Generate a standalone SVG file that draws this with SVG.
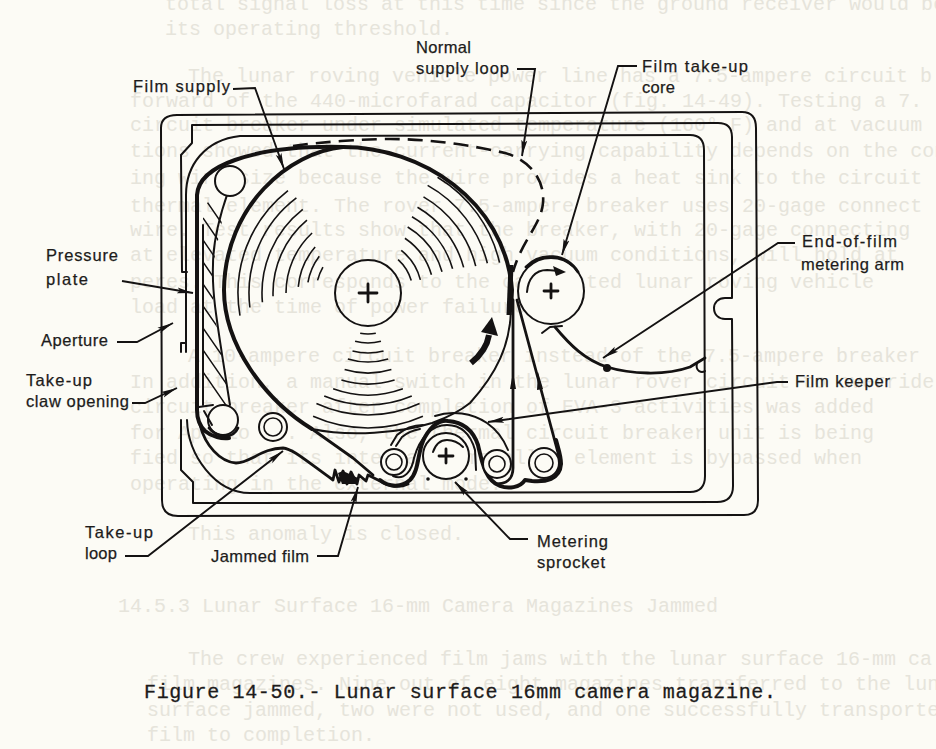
<svg xmlns="http://www.w3.org/2000/svg" width="936" height="749" viewBox="0 0 936 749">
<style>
.ghost{font-family:"Liberation Mono",monospace;font-size:20px;fill:#e6e4db}
.cap{font-family:"Liberation Mono",monospace;font-size:20px;fill:#1d1b1b;stroke:#1d1b1b;stroke-width:.3}
.lab{font-family:"Liberation Sans",Arial,sans-serif;font-size:16.5px;fill:#1d1b1b;stroke:#1d1b1b;stroke-width:.25}
.l{fill:none;stroke:#141212;stroke-width:2;stroke-linejoin:round;stroke-linecap:round}
.m{fill:none;stroke:#141212;stroke-width:2.8;stroke-linejoin:round;stroke-linecap:round}
.t{fill:none;stroke:#141212;stroke-width:4;stroke-linejoin:round;stroke-linecap:round}
.w{fill:#fcfbf5;stroke:#141212;stroke-width:2}
.a{fill:none;stroke:#141212;stroke-width:1.6}
.h{stroke:#141212;stroke-width:1.4}
.ld{fill:none;stroke:#141212;stroke-width:1.9;marker-end:url(#ah)}
</style>
<defs>
<marker id="ah" markerUnits="userSpaceOnUse" markerWidth="18" markerHeight="8" refX="16" refY="4" orient="auto"><path d="M0,1 L16,4 L0,7 L3,4 Z" fill="#141212"/></marker>
<clipPath id="plate"><path d="M203,205 L228,192 L213,265 L213,305 L230,405 L203,412 Z"/></clipPath>
</defs>
<rect width="936" height="749" fill="#fcfbf5"/>
<g id="show-through">
<text class="ghost" x="165" y="10">total signal loss at this time since the ground receiver would be o</text>
<text class="ghost" x="165" y="35">its operating threshold.</text>
<text class="ghost" x="188" y="82">The lunar roving vehicle power line has a 7.5-ampere circuit b</text>
<text class="ghost" x="130" y="107">forward of the 440-microfarad capacitor (fig. 14-49). Testing a 7.</text>
<text class="ghost" x="130" y="131">circuit breaker under simulated temperature (160° F) and at vacuum</text>
<text class="ghost" x="130" y="157">tions showed that the current-carrying capability depends on the con</text>
<text class="ghost" x="130" y="184">ing wire size because the wire provides a heat sink to the circuit</text>
<text class="ghost" x="130" y="212">thermal element. The rover 7.5-ampere breaker uses 20-gage connect</text>
<text class="ghost" x="130" y="236">wire. Test results show that the breaker, with 20-gage connecting</text>
<text class="ghost" x="130" y="261">at elevated temperature and high vacuum conditions, will hold at</text>
<text class="ghost" x="130" y="288">peres. This corresponds to the calculated lunar roving vehicle</text>
<text class="ghost" x="130" y="313">load at the time of power failure.</text>
<text class="ghost" x="188" y="362">A 10-ampere circuit breaker instead of the 7.5-ampere breaker</text>
<text class="ghost" x="130" y="388">In addition, a manual switch in the lunar rover circuit to override</text>
<text class="ghost" x="130" y="413">circuit breaker after completion of EVA-3 activities was added</text>
<text class="ghost" x="130" y="439">for Apollo 16. Also, the thermal circuit breaker unit is being</text>
<text class="ghost" x="130" y="464">fied so that its internal bimetallic element is bypassed when</text>
<text class="ghost" x="130" y="490">operating in the external mode.</text>
<text class="ghost" x="188" y="540">This anomaly is closed.</text>
<text class="ghost" x="118" y="612">14.5.3 Lunar Surface 16-mm Camera Magazines Jammed</text>
<text class="ghost" x="188" y="665">The crew experienced film jams with the lunar surface 16-mm ca</text>
<text class="ghost" x="147" y="690">film magazines. Nine out of eight magazines transferred to the lun</text>
<text class="ghost" x="147" y="716">surface jammed, two were not used, and one successfully transported</text>
<text class="ghost" x="147" y="741">film to completion.</text>
</g>
<g id="magazine-frame">
<path class="l" d="M177,115 L742,112 Q756,112 756,128 L758,500 Q758,515 744,515 L178,516 Q162,516 162,500 L161,128 Q161,115 177,115 Z"/>
<path class="l" d="M187,272 L182,272 L181,155 L192,143 L192,125 L718,123 Q732,123 732,137 L732,298 L725,298 C718,298 714,303 714,308 C714,315 719,319 725,319 L732,319 L733,486 Q733,502 717,502 L193,503 L193,482 L181,470 L181,420"/>
<path class="l" d="M187,420 C188,455 215,493 250,493 L690,492 Q705,492 705,476 L704,150 Q704,135 690,135 L240,136 C205,140 186,165 186,195 L186,343 L181,343 L181,352 M186,343 L186,352"/>
</g>
<g id="supply-channel">
<path class="t" d="M343,147 C300,146 263,150 235,160 C212,168 198,180 197,195 L197,410 C197,420 200,426 205,431 C212,437 222,439 229,438"/>
<path class="l" d="M203,225 L203,405"/>
<path class="l" d="M228,192 C220,215 213,240 213,265 C212,290 214,305 230,405"/>
<g clip-path="url(#plate)">
<path class="h" d="M203,196 L227,231 M203,218 L227,253 M203,240 L227,275 M203,262 L227,297 M203,284 L227,319 M203,306 L230,345 M203,328 L230,367 M203,350 L230,389 M203,372 L230,411"/>
</g>
<circle class="w" cx="230" cy="181" r="15"/>
<circle class="w" cx="223" cy="420" r="15"/>
<path class="l" d="M199,407 L213,405 M204,411 L212,425"/>
<path class="m" d="M209,428 C215,436 232,441 238,428"/>
</g>
<g id="film-supply-roll">
<path class="t" d="M343,147 C290,152 225,205 224,290 C224,345 265,400 312,429"/>
<path class="t" d="M343,147 C420,147 505,200 512,290 L511,310"/>
<path class="l" d="M511,310 C510,345 497,373 470,403 C455,415 440,420 432,423 C400,433 350,437 312,429"/>
<circle class="l" cx="368" cy="293" r="33"/>
<path class="m" d="M359,293 L377,293 M368,284 L368,302"/>
<g class="arcs">
<circle class="a" cx="368" cy="293" r="52" pathLength="360" stroke-dasharray="16 360" transform="rotate(194 368 293)"/>
<circle class="a" cx="368" cy="293" r="61" pathLength="360" stroke-dasharray="27 360" transform="rotate(190 368 293)"/>
<circle class="a" cx="368" cy="293" r="70" pathLength="360" stroke-dasharray="36 360" transform="rotate(185 368 293)"/>
<circle class="a" cx="368" cy="293" r="82" pathLength="360" stroke-dasharray="47 360" transform="rotate(180 368 293)"/>
<circle class="a" cx="368" cy="293" r="95" pathLength="360" stroke-dasharray="52 360" transform="rotate(178 368 293)"/>
<circle class="a" cx="368" cy="293" r="106" pathLength="360" stroke-dasharray="57 360" transform="rotate(175 368 293)"/>
<circle class="a" cx="368" cy="293" r="119" pathLength="360" stroke-dasharray="60 360" transform="rotate(173 368 293)"/>
<circle class="a" cx="368" cy="293" r="130" pathLength="360" stroke-dasharray="62 360" transform="rotate(170 368 293)"/>
<circle class="a" cx="368" cy="293" r="45" pathLength="360" stroke-dasharray="32 360" transform="rotate(312 368 293)"/>
<circle class="a" cx="368" cy="293" r="54" pathLength="360" stroke-dasharray="38 360" transform="rotate(308 368 293)"/>
<circle class="a" cx="368" cy="293" r="66" pathLength="360" stroke-dasharray="40 360" transform="rotate(304 368 293)"/>
<circle class="a" cx="368" cy="293" r="77" pathLength="360" stroke-dasharray="43 360" transform="rotate(301 368 293)"/>
<circle class="a" cx="368" cy="293" r="88" pathLength="360" stroke-dasharray="44 360" transform="rotate(300 368 293)"/>
<circle class="a" cx="368" cy="293" r="99" pathLength="360" stroke-dasharray="45 360" transform="rotate(300 368 293)"/>
<circle class="a" cx="368" cy="293" r="111" pathLength="360" stroke-dasharray="46 360" transform="rotate(300 368 293)"/>
<circle class="a" cx="368" cy="293" r="123" pathLength="360" stroke-dasharray="47 360" transform="rotate(299 368 293)"/>
<circle class="a" cx="368" cy="293" r="135" pathLength="360" stroke-dasharray="46 360" transform="rotate(301 368 293)"/>
<circle class="a" cx="368" cy="293" r="41" pathLength="360" stroke-dasharray="22 360" transform="rotate(79 368 293)"/>
<circle class="a" cx="368" cy="293" r="50" pathLength="360" stroke-dasharray="30 360" transform="rotate(75 368 293)"/>
<circle class="a" cx="368" cy="293" r="60" pathLength="360" stroke-dasharray="30 360" transform="rotate(75 368 293)"/>
<circle class="a" cx="368" cy="293" r="69" pathLength="360" stroke-dasharray="34 360" transform="rotate(73 368 293)"/>
<circle class="a" cx="368" cy="293" r="80" pathLength="360" stroke-dasharray="34 360" transform="rotate(73 368 293)"/>
<circle class="a" cx="368" cy="293" r="91" pathLength="360" stroke-dasharray="34 360" transform="rotate(73 368 293)"/>
<circle class="a" cx="368" cy="293" r="102" pathLength="360" stroke-dasharray="40 360" transform="rotate(70 368 293)"/>
<circle class="a" cx="368" cy="293" r="112" pathLength="360" stroke-dasharray="46 360" transform="rotate(67 368 293)"/>
<circle class="a" cx="368" cy="293" r="122" pathLength="360" stroke-dasharray="50 360" transform="rotate(65 368 293)"/>
<circle class="a" cx="368" cy="293" r="135" pathLength="360" stroke-dasharray="48 360" transform="rotate(66 368 293)"/>
</g>
</g>
<g id="normal-supply-loop">
<path fill="none" stroke="#141212" stroke-width="2.6" stroke-dasharray="15 8" d="M293,146 C320,142 363,139 390,139 C430,139 470,145 505,153 C530,160 545,180 543,203 C541,225 522,240 513,272"/>
</g>
<g id="take-up-core">
<path style="fill:none;stroke:#141212;stroke-width:5" d="M511,265 L509,315"/>
<circle class="w" cx="551" cy="291" r="33"/>
<path class="m" d="M526,267 A33,33 0 0 1 578,272"/>
<path class="l" d="M527,292 C528,279 535,270 547,270 L560,271"/>
<path d="M566,272 L553,266 L556,276 Z" fill="#141212"/>
<path class="m" d="M544,291 L558,291 M551,284 L551,298"/>
</g>
<g id="metering-arm">
<path class="l" d="M542,333 L550,327 L562,326"/>
<path class="m" d="M555,327 C570,345 585,360 607,367 C630,374 665,376 690,367 L705,358"/>
<circle cx="607" cy="368" r="4" fill="#141212"/>
<path class="l" d="M697,363 C695,372 702,373 705,371"/>
</g>
<g id="take-up-path">
<path class="m" d="M200,425 C205,445 220,462 236,463 C250,463 262,448 283,448 C293,449 305,460 333,480 L335,470 L339,482 L343,471 L347,484 L351,472 L357,484 L359,475 L366,481 L368,475 L380,481 C388,487 400,488 408,484"/>
<path d="M338,473 L343,471 L358,478 L356,484 L342,484 Z" fill="#141212"/>
<path class="m" d="M312,429 L353,458 L373,475"/>
<circle class="w" cx="273" cy="427" r="14"/><circle class="a" cx="273" cy="427" r="9"/>
</g>
<g id="metering-sprocket">
<path class="t" d="M380,480 C390,488 402,487 410,480 C420,470 417,450 425,437 C432,425 440,420 448,421 C462,422 473,430 478,445 C482,462 485,480 500,486 C508,489 520,488 525,480 L532,481 C545,482 560,480 561,464 C561,455 558,448 556,440"/>
<path class="l" d="M393,476 C405,481 412,470 414,458 C420,437 432,425 447,425 C463,425 471,436 475,450 L476,470"/>
<path class="l" d="M391,445 L397,435 C405,428 415,425 423,425 M396,446 L402,437 C408,432 414,430 420,429"/>
<path class="l" d="M435,416 C452,410 472,413 487,423 C497,430 504,440 508,450"/>
<circle class="w" cx="446" cy="456" r="23"/>
<path class="l" d="M433,452 C436,443 441,440 447,440 C453,440 459,443 463,447"/>
<path class="m" d="M439,456 L453,456 M446,449 L446,463"/>
<circle cx="428" cy="479" r="1.8" fill="#141212"/><circle cx="466" cy="479" r="1.8" fill="#141212"/>
</g>
<g id="rollers">
<path class="m" d="M513,300 L513,468 C513,480 505,484 497,484"/>
<path class="m" d="M517,300 L561,464"/>
<path d="M513,372 L510,389 L516,389 Z M538,372 L537,390 L543,389 Z" fill="#141212"/>
<circle class="w" cx="394" cy="462" r="13"/><circle class="a" cx="394" cy="462" r="8"/>
<circle class="w" cx="497" cy="464" r="14"/><circle class="a" cx="497" cy="464" r="8"/>
<circle class="w" cx="544" cy="463" r="15"/><circle class="a" cx="544" cy="463" r="9"/>
</g>
<g id="direction-arrow">
<path fill="none" stroke="#141212" stroke-width="6" d="M471,363 C481,355 487,347 489,335"/>
<path d="M492,317 L481,332 L498,336 Z" fill="#141212"/>
</g>
<g id="connectors">
<path class="ld" d="M233,89 L255,88 L284,169"/>
<path class="ld" d="M517,69 L535,69 L522,156"/>
<path class="ld" d="M637,66 L618,66 L562,255"/>
<path class="ld" d="M795,243 L778,243 L603,358"/>
<path class="ld" d="M788,382 L777,382 L488,422"/>
<path class="ld" d="M528,539 L510,539 L455,482"/>
<path class="ld" d="M317,556 L338,556 L358,487"/>
<path class="ld" d="M125,556 L148,556 L283,451"/>
<path class="ld" d="M117,342 L137,342 L173,323"/>
<path class="ld" d="M132,403 L145,403 L177,388"/>
<path class="ld" d="M122,281 L193,293"/>
</g>
<g id="labels">
<text class="lab" x="133" y="92" textLength="97">Film supply</text>
<text class="lab" x="416" y="53" textLength="55">Normal</text>
<text class="lab" x="416" y="74" textLength="93">supply loop</text>
<text class="lab" x="642" y="72" textLength="106">Film take-up</text>
<text class="lab" x="642" y="93" textLength="33">core</text>
<text class="lab" x="802" y="247" textLength="95">End-of-film</text>
<text class="lab" x="801" y="270" textLength="103">metering arm</text>
<text class="lab" x="795" y="387" textLength="95">Film keeper</text>
<text class="lab" x="46" y="261" textLength="72">Pressure</text>
<text class="lab" x="46" y="285" textLength="42">plate</text>
<text class="lab" x="41" y="346" textLength="67">Aperture</text>
<text class="lab" x="26" y="386" textLength="66">Take-up</text>
<text class="lab" x="26" y="407" textLength="103">claw opening</text>
<text class="lab" x="85" y="538" textLength="68">Take-up</text>
<text class="lab" x="85" y="559" textLength="32">loop</text>
<text class="lab" x="211" y="562" textLength="98">Jammed film</text>
<text class="lab" x="537" y="547" textLength="71">Metering</text>
<text class="lab" x="537" y="568" textLength="68">sprocket</text>
<text class="cap" x="144" y="698" textLength="632">Figure 14-50.- Lunar surface 16mm camera magazine.</text>
</g>
</svg>
